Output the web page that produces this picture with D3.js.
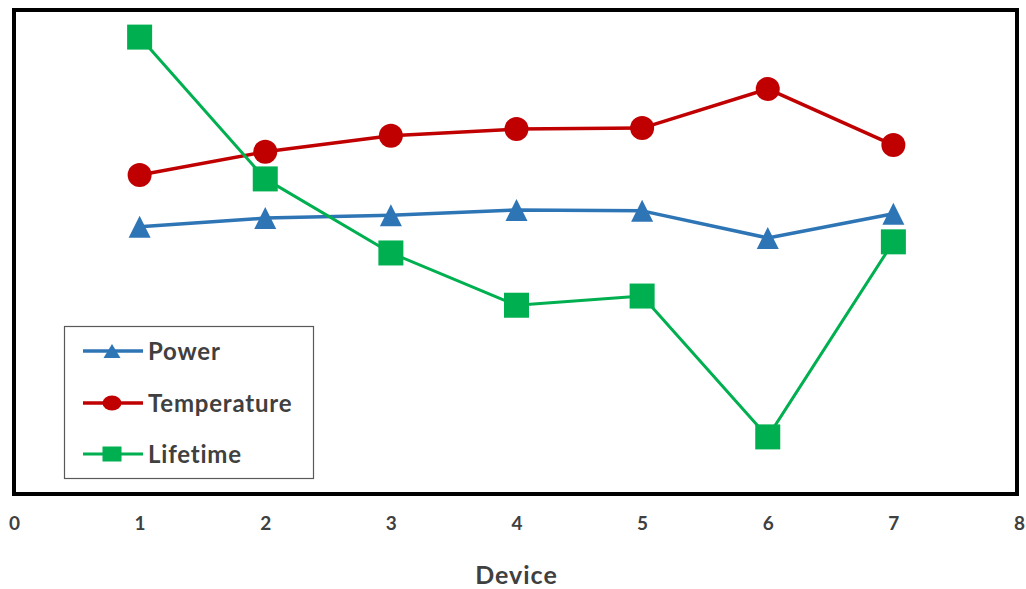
<!DOCTYPE html>
<html>
<head>
<meta charset="utf-8">
<script src="https://cdn.jsdelivr.net/npm/d3@7"></script>
<style>
html,body{margin:0;padding:0;background:#fff;}
svg{display:block;}
</style>
</head>
<body>
<svg id="chart" width="1026" height="589"></svg>
<script>
const devices = [1, 2, 3, 4, 5, 6, 7];
const power = [55.2, 57.0, 57.6, 58.7, 58.5, 52.9, 57.9];
const temperature = [65.9, 70.7, 74.0, 75.4, 75.6, 83.7, 72.1];
const lifetime = [94.4, 65.1, 49.8, 39.0, 40.9, 11.8, 52.1];
const xTicks = [0, 1, 2, 3, 4, 5, 6, 7, 8];
const seriesNames = ["Power", "Temperature", "Lifetime"];
const xTitle = "Device";

const svg = d3.select("#chart");
const L = 14, R = 1017, T = 10, B = 494;
const x = d3.scaleLinear().domain([0, 8]).range([14, 1019]);
const y = d3.scaleLinear().domain([0, 100]).range([B, T]);

const textColor = "#404040";
const font = "Lato, 'Open Sans', sans-serif";

const series = [
  {name: seriesNames[0], values: power, color: "#2E75B6", width: 3.5, marker: "triangle"},
  {name: seriesNames[1], values: temperature, color: "#C00000", width: 3.5, marker: "circle"},
  {name: seriesNames[2], values: lifetime, color: "#00B050", width: 3, marker: "square"}
];

function drawMarker(g, type, cx, cy, w, h, color) {
  if (type === "circle") {
    g.append("ellipse").attr("cx", cx).attr("cy", cy).attr("rx", w / 2).attr("ry", h / 2).attr("fill", color);
  } else if (type === "square") {
    g.append("rect").attr("x", cx - w / 2).attr("y", cy - h / 2)
      .attr("width", w).attr("height", h).attr("fill", color);
  } else {
    g.append("path")
      .attr("d", `M${cx},${cy - h / 2}L${cx + w / 2},${cy + h / 2}L${cx - w / 2},${cy + h / 2}Z`)
      .attr("fill", color);
  }
}

// frame
svg.append("rect").attr("x", L).attr("y", T).attr("width", R - L).attr("height", B - T)
  .attr("fill", "none").attr("stroke", "#000").attr("stroke-width", 4);

// x axis labels
const xAxis = d3.axisBottom(x).tickValues(xTicks).tickSize(0).tickPadding(0).tickFormat(d3.format("d"));
const gx = svg.append("g").attr("transform", `translate(0,${B})`).call(xAxis);
gx.select(".domain").remove();
gx.selectAll("text").attr("y", 36).attr("dy", "0")
  .attr("font-family", font).attr("font-weight", "bold").attr("font-size", 19).attr("fill", textColor);

svg.append("text").attr("x", 516.5).attr("y", 584).attr("text-anchor", "middle")
  .attr("font-family", font).attr("font-weight", "bold").attr("font-size", 25)
  .attr("letter-spacing", 1).attr("fill", textColor)
  .text(xTitle);

// lines
const line = d3.line().x((d, i) => x(devices[i])).y(d => y(d));
series.forEach(s => {
  svg.append("path").datum(s.values).attr("d", line).attr("fill", "none")
    .attr("stroke", s.color).attr("stroke-width", s.width).attr("stroke-linejoin", "round");
});
series.forEach(s => {
  const g = svg.append("g");
  const sz = s.marker === "triangle" ? 22 : (s.marker === "circle" ? 24 : 25);
  s.values.forEach((v, i) => drawMarker(g, s.marker, x(devices[i]), y(v), sz, sz, s.color));
});

// legend
const lg = svg.append("g");
lg.append("rect").attr("x", 64.5).attr("y", 326.5).attr("width", 249).attr("height", 152)
  .attr("fill", "#fff").attr("stroke", "#595959").attr("stroke-width", 1.2);
const rowsY = [351, 403, 454];
series.forEach((s, i) => {
  const yy = rowsY[i];
  lg.append("line").attr("x1", 83).attr("x2", 143).attr("y1", yy).attr("y2", yy)
    .attr("stroke", s.color).attr("stroke-width", s.width);
  const w = s.marker === "triangle" ? 17 : 19;
  const h = s.marker === "triangle" ? 14 : 15;
  drawMarker(lg, s.marker, 112, yy, w, h, s.color);
  lg.append("text").attr("x", 148).attr("y", yy + 8.5)
    .attr("font-family", font).attr("font-weight", "bold").attr("font-size", 24)
    .attr("letter-spacing", 0.8).attr("fill", textColor)
    .text(s.name);
});
</script>
</body>
</html>
